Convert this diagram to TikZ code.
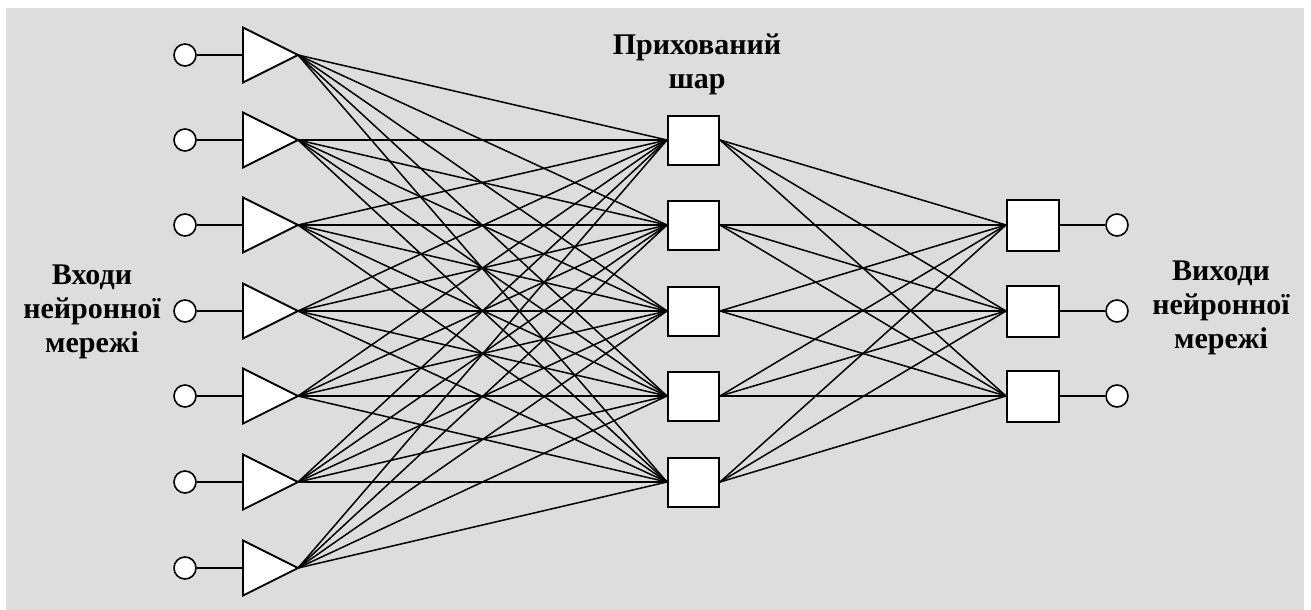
\documentclass[tikz,border=0pt]{standalone}
\usepackage{fontspec}
\setmainfont{Liberation Serif}
\begin{document}
\begin{tikzpicture}[x=1pt,y=-1pt,
  pin/.style={circle,draw,line width=1.6pt,fill=white,minimum size=22pt,inner sep=0pt},
  hbox/.style={rectangle,draw,line width=2pt,fill=white,minimum width=51pt,minimum height=49pt,inner sep=0pt},
  obox/.style={rectangle,draw,line width=2pt,fill=white,minimum width=52pt,minimum height=51pt,inner sep=0pt},
  tri/.style={draw,line width=1.8pt,fill=white,line join=miter},
  wire/.style={line width=1.5pt},
  lead/.style={line width=2pt},
  lbl/.style={font=\fontsize{30}{34}\selectfont\bfseries,align=center,inner sep=0pt}]
\useasboundingbox (0,0) rectangle (1311,610);
\fill[white] (0,0) rectangle (1311,610);
\fill[fill={rgb,255:red,221;green,221;blue,221}] (6,8) rectangle (1304,610);
% row positions
\foreach \i/\yy in {0/55,1/140,2/225,3/311,4/396,5/482,6/568}{
  \coordinate (r\i) at (0,\yy);
  \coordinate (tl\i) at (243,\yy);
  \coordinate (t\i) at (298,\yy);
}
% hidden boxes
\foreach \j in {1,...,5}{
  \node[hbox] (h\j) at (693.5,0 |- r\j) {};
}
% output boxes and circles
\foreach \k/\r in {1/2,2/3,3/4}{
  \node[obox] (o\k) at (1033,0 |- r\r) {};
  \node[pin] (oc\k) at (1117,0 |- r\r) {};
}
% connections input -> hidden
\foreach \i in {0,...,6}{
  \foreach \j in {1,...,5}{
    \draw[wire] (t\i) -- (h\j.west);
  }
}
% connections hidden -> output
\foreach \j in {1,...,5}{
  \foreach \k in {1,2,3}{
    \draw[wire] (h\j.east) -- (o\k.west);
  }
}
% redraw boxes over wires
\foreach \j in {1,...,5}{
  \node[hbox] at (h\j) {};
}
\foreach \k in {1,2,3}{
  \node[obox] at (o\k) {};
}
% input circles and triangles
\foreach \i in {0,...,6}{
  \node[pin] (ic\i) at (185,0 |- r\i) {};
  \draw[lead] (ic\i) -- (tl\i);
  \draw[tri] ([yshift=27.5pt]tl\i) -- (t\i) -- ([yshift=-27.5pt]tl\i) -- cycle;
}
% output wires
\foreach \k in {1,2,3}{
  \draw[lead] (o\k.east) -- (oc\k.west);
}
% labels
\node[lbl] (lin) at (92,312) {Входи\\нейронної\\мережі};
\node[lbl] (lout) at (1221,308) {Виходи\\нейронної\\мережі};
\node[lbl] (lhid) at (697,64) {Прихований\\шар};
\end{tikzpicture}
\end{document}
